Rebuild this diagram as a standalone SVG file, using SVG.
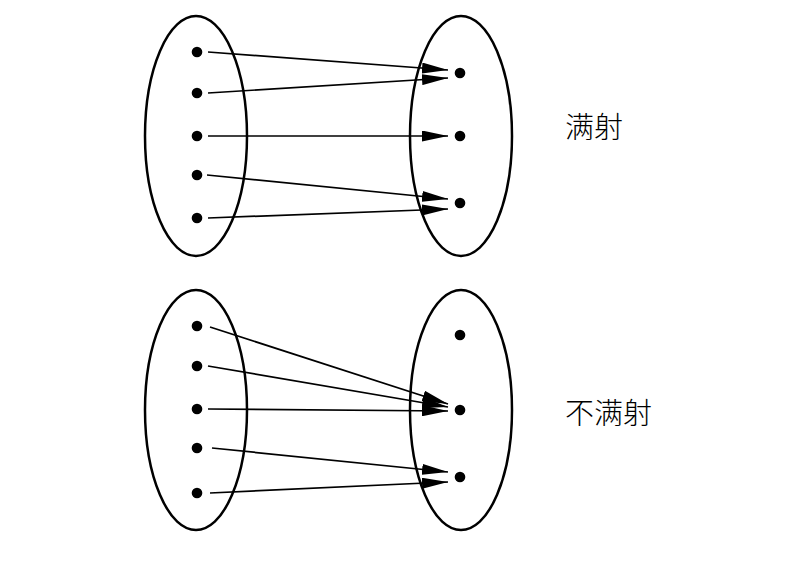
<svg xmlns="http://www.w3.org/2000/svg" width="802" height="572" viewBox="0 0 802 572">
<style>
.set{fill:none;stroke:#000;stroke-width:2.5}
.dot{fill:#000}
.edge{stroke:#000;stroke-width:1.7;fill:none;marker-end:url(#ah)}
.lbl{font-family:"Noto Sans CJK SC","Noto Sans CJK JP",sans-serif;font-size:29px;font-weight:300;fill:#000}
</style>
<defs>
<marker id="ah" viewBox="0 0 26 11" refX="26" refY="5.5" markerWidth="26" markerHeight="11" markerUnits="userSpaceOnUse" orient="auto">
<path d="M0,0 L26,5.5 L0,11 Z" fill="#000"/>
</marker>
</defs>
<rect width="802" height="572" fill="#fff"/>
<g id="top-domain">
<ellipse class="set" cx="196" cy="136" rx="51" ry="120"/>
<circle class="dot" cx="197" cy="52" r="5.3"/>
<circle class="dot" cx="197" cy="93" r="5.3"/>
<circle class="dot" cx="197" cy="136" r="5.3"/>
<circle class="dot" cx="197" cy="175" r="5.3"/>
<circle class="dot" cx="197" cy="218" r="5.3"/>
</g>
<g id="top-codomain">
<ellipse class="set" cx="461" cy="136" rx="51" ry="120"/>
<circle class="dot" cx="460" cy="73" r="5.3"/>
<circle class="dot" cx="460" cy="136" r="5.3"/>
<circle class="dot" cx="460" cy="203" r="5.3"/>
</g>
<g id="bottom-domain">
<ellipse class="set" cx="196" cy="410" rx="51" ry="120"/>
<circle class="dot" cx="197" cy="326" r="5.3"/>
<circle class="dot" cx="197" cy="366" r="5.3"/>
<circle class="dot" cx="197" cy="409" r="5.3"/>
<circle class="dot" cx="197" cy="448" r="5.3"/>
<circle class="dot" cx="197" cy="493" r="5.3"/>
</g>
<g id="bottom-codomain">
<ellipse class="set" cx="461" cy="410" rx="51" ry="120"/>
<circle class="dot" cx="460" cy="335" r="5.3"/>
<circle class="dot" cx="460" cy="410" r="5.3"/>
<circle class="dot" cx="460" cy="477" r="5.3"/>
</g>
<g id="connectors">
<line class="edge" x1="208" y1="52" x2="448" y2="70"/>
<line class="edge" x1="208" y1="93" x2="448" y2="78"/>
<line class="edge" x1="208" y1="136" x2="448" y2="136"/>
<line class="edge" x1="207" y1="175" x2="448" y2="199"/>
<line class="edge" x1="208" y1="218" x2="448" y2="209"/>
<line class="edge" x1="210" y1="327" x2="448" y2="404"/>
<line class="edge" x1="208" y1="366" x2="448" y2="407"/>
<line class="edge" x1="208" y1="409" x2="448" y2="411"/>
<line class="edge" x1="212" y1="448" x2="448" y2="472"/>
<line class="edge" x1="210" y1="493" x2="448" y2="482"/>
</g>
<g id="label-surjective">
<text class="lbl" x="565" y="138">满射</text>
</g>
<g id="label-not-surjective">
<text class="lbl" x="565" y="424">不满射</text>
</g>
</svg>
